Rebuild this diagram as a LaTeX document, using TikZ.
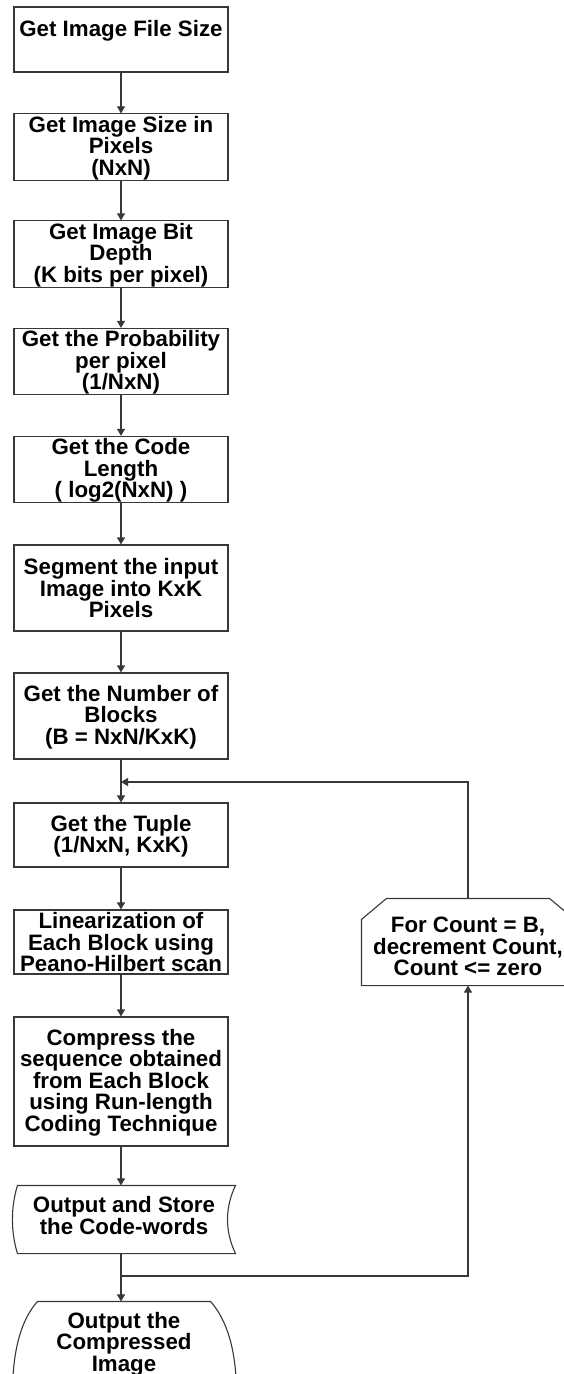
\documentclass[tikz,border=0pt]{standalone}
\usepackage{fontspec}
\setmainfont{Liberation Sans}
\usetikzlibrary{arrows.meta,calc}
% line struts: regular, taller first line, deeper last line
\newcommand\sL{\rule[-2.5pt]{0pt}{21pt}}
\newcommand\sT{\rule[-2.5pt]{0pt}{29pt}}
\newcommand\sB{\rule[-10.5pt]{0pt}{29pt}}
\definecolor{edgecol}{gray}{0.22}
\begin{document}
\begin{tikzpicture}[x=1pt,y=-1pt,
  line width=1.1pt,
  every node/.style={inner sep=0pt, align=center,
    font={\fontsize{22.3pt}{21.5pt}\selectfont\bfseries\lineskiplimit=-100pt}},
  stepbox/.style={draw=edgecol, line width=1.1pt, minimum width=214pt},
  frame/.style={minimum width=222pt},
  edge/.style={draw=edgecol, line width=1.1pt},
  arr/.style={edge, -{Triangle[width=8pt,length=7pt]}}
]
\useasboundingbox (0,0) rectangle (564,1374);
\clip (0,0) rectangle (564,1374);

% main column of process steps
\node[stepbox, minimum height=65pt] (b1) at (121,39.5) {\sL Get Image File Size\\\sL};
\node[stepbox, minimum height=64pt] (b2) at (121,147) {\sL Get Image Size in\\\sL Pixels\\\sL (NxN)};
\node[stepbox, minimum height=66pt] (b3) at (121,254) {\sL Get Image Bit\\\sL Depth\\\sL (K bits per pixel)};
\node[stepbox, minimum height=65pt] (b4) at (121,361.5) {\sL Get the Probability\\\sL per pixel\\\sL (1/NxN)};
\node[stepbox, minimum height=65pt] (b5) at (121,469.5) {\sL Get the Code\\\sL Length\\\sL ( log2(NxN) )};
\node[stepbox, minimum height=86pt] (b6) at (121,588) {\sL Segment the input\\\sL Image into KxK\\\sL Pixels};
\node[stepbox, minimum height=86pt] (b7) at (121,716) {\sL Get the Number of\\\sL Blocks\\\sL (B = NxN/KxK)};
\node[stepbox, minimum height=64pt] (b8) at (121,835) {\sL Get the Tuple\\\sL (1/NxN, KxK)};
\node[stepbox, minimum height=64pt] (b9) at (121,942) {\sL Linearization of\\\sL Each Block using\\\sL Peano-Hilbert scan};
\node[stepbox, minimum height=129pt] (b10) at (121,1081.5) {\sL Compress the\\\sL sequence obtained\\\sL from Each Block\\\sL using Run-length\\\sL Coding Technique};

% stored data step
\node[frame, minimum height=67pt] (store) at (124,1219.5) {\sL Output and Store\\\sB the Code-words};
\draw[edge] ($(store.north west)+(5,0)$) -- (store.north east)
  .. controls ($(store.north east)+(-10.7,22)$) and ($(store.south east)+(-10.7,-22)$) .. (store.south east)
  -- ($(store.south west)+(5,0)$)
  .. controls ($(store.south west)+(-1.7,-22)$) and ($(store.north west)+(-1.7,22)$) .. cycle;

% terminal output
\node[frame, minimum height=82pt] (term) at (124,1343) {\sL Output the\\\sL Compressed\\\sL Image};
\draw[edge] ($(term.north west)+(25,0)$) -- ($(term.north east)+(-25,0)$)
  .. controls ($(term.north east)+(-9,18)$) and ($(term.north east)+(1,48)$) .. ($(term.north east)+(1,93)$)
  -- ($(term.north east)+(1,130)$) -- ($(term.north west)+(0,130)$) -- ($(term.north west)+(0,93)$)
  .. controls ($(term.north west)+(0,48)$) and ($(term.north west)+(9,18)$) .. cycle;

% loop limit
\node[minimum width=212pt, minimum height=86pt] (loop) at (468,942) {\sT For Count = B,\\\sL decrement Count,\\\sL Count <= zero};
\draw[edge] (loop.south west) -- ($(loop.north west)+(0,21)$) -- ($(loop.north west)+(25,0)$)
  -- ($(loop.north east)+(-25,0)$) -- ($(loop.north east)+(0,21)$) -- (loop.south east) -- cycle;

% connectors
\draw[arr] (b1) -- (b2);
\draw[arr] (b2) -- (b3);
\draw[arr] (b3) -- (b4);
\draw[arr] (b4) -- (b5);
\draw[arr] (b5) -- (b6);
\draw[arr] (b6) -- (b7);
\draw[arr] (b7) -- (b8);
\draw[arr] (b8) -- (b9);
\draw[arr] (b9) -- (b10);
\draw[arr] (b10.south) -- (b10.south |- store.north);
\coordinate (m) at (121,782);
\coordinate (j) at (121,1276);
\draw[arr] (loop.north) |- (m);
\draw[arr] (j |- store.south) -- (j |- term.north);
\draw[arr] (j) -| (loop.south);
\end{tikzpicture}
\end{document}
